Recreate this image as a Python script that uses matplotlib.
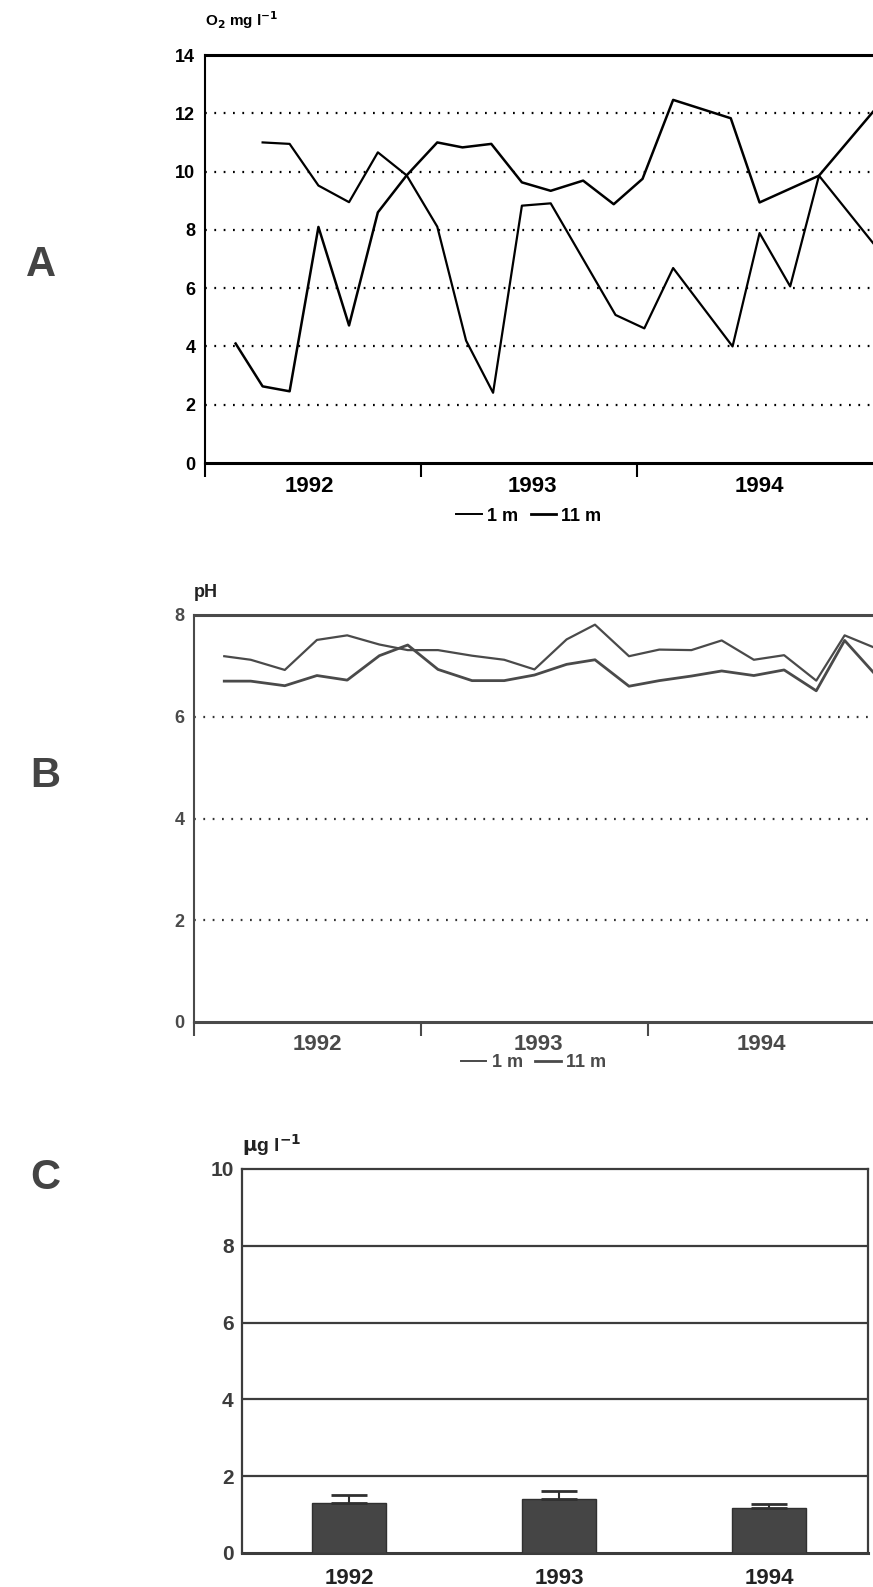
import matplotlib
matplotlib.use('Agg')
import matplotlib.pyplot as plt
from matplotlib.lines import Line2D

plt.rcParams['font.family'] = ['Liberation Sans', 'DejaVu Sans']
plt.rcParams['font.weight'] = 'bold'
plt.rcParams['mathtext.default'] = 'bf'

# --- data (months counted from Jan 1992) ---
years = ['1992', '1993', '1994']

# A: dissolved oxygen, mg/l
o2_months_11m = [1.7, 3.2, 4.7, 6.3, 8.0, 9.6, 11.2, 12.9, 14.3, 15.9, 17.6, 19.2,
                 21.0, 22.7, 24.3, 26.0, 29.2, 30.8, 34.1, 37.1]
o2_11m = [4.10, 2.63, 2.46, 8.10, 4.72, 8.60, 9.87, 11.00, 10.83, 10.95, 9.63, 9.34,
          9.69, 8.88, 9.75, 12.46, 11.83, 8.94, 9.86, 12.05]
o2_months_1m = [3.2, 4.7, 6.3, 8.0, 9.6, 11.2, 12.9, 14.5, 16.0, 17.6, 19.2, 22.8,
                24.4, 26.0, 29.3, 30.8, 32.5, 34.1, 37.1]
o2_1m = [11.00, 10.95, 9.52, 8.95, 10.66, 9.87, 8.11, 4.20, 2.41, 8.83, 8.91, 5.08,
         4.62, 6.69, 4.00, 7.89, 6.06, 9.86, 7.55]

# B: pH
ph_months = [1.6, 3.0, 4.8, 6.5, 8.1, 9.8, 11.3, 12.9, 14.7, 16.4, 18.0, 19.7, 21.2,
             23.0, 24.6, 26.3, 27.9, 29.6, 31.2, 32.9, 34.4, 35.9]
ph_1m = [7.19, 7.12, 6.92, 7.51, 7.60, 7.42, 7.31, 7.31, 7.20, 7.12, 6.93, 7.52, 7.81,
         7.19, 7.32, 7.31, 7.50, 7.12, 7.21, 6.71, 7.60, 7.37]
ph_11m = [6.70, 6.70, 6.61, 6.81, 6.72, 7.20, 7.41, 6.93, 6.71, 6.71, 6.82, 7.03, 7.12,
          6.60, 6.71, 6.80, 6.90, 6.81, 6.92, 6.51, 7.50, 6.88]

# C: yearly means with error
chl_mean = [1.30, 1.41, 1.17]
chl_err = [0.21, 0.20, 0.11]

W, H = 873, 1587
fig = plt.figure(figsize=(W / 100, H / 100), dpi=100)


def box(l, t, r, b):
    return [l / W, 1 - b / H, (r - l) / W, (b - t) / H]


def dotted(ax, levels, color):
    for v in levels:
        ax.axhline(v, color=color, lw=1.6, ls=(0, (0.8, 3.4)), zorder=1)


def style_line_axes(ax, color, xmax, ymax, ystep, year_pos):
    ax.set_xlim(0, xmax)
    ax.set_ylim(0, ymax)
    ax.spines['right'].set_visible(False)
    for s in ['left', 'bottom', 'top']:
        ax.spines[s].set_color(color)
    ax.spines['left'].set_linewidth(1.5)
    ax.spines['bottom'].set_linewidth(2.2)
    ax.spines['top'].set_linewidth(2.2)
    ax.set_yticks(range(0, ymax + 1, ystep))
    ax.tick_params(axis='y', length=0, pad=7, labelsize=13, colors=color)
    ax.set_xticks([0, 12, 24])
    ax.set_xticklabels([])
    ax.tick_params(axis='x', which='major', length=10, width=1.5, color=color, direction='out')
    ax.set_xticks(year_pos, minor=True)
    ax.set_xticklabels(years, minor=True)
    ax.tick_params(axis='x', which='minor', length=0, pad=9, labelsize=16, colors=color)


def depth_legend(ax, color, x, y):
    handles = [Line2D([], [], color=color, lw=1.4), Line2D([], [], color=color, lw=2.0)]
    ax.legend(handles, ['1 m', '11 m'], loc='center', bbox_to_anchor=(x, y), ncol=2,
              frameon=False, fontsize=13, handlelength=1.4, handletextpad=0.3,
              columnspacing=0.7, labelcolor=color)


# ---- A: oxygen ----
axA = fig.add_axes(box(205, 55, 873, 463))
dotted(axA, range(2, 13, 2), 'black')
axA.plot(o2_months_11m, o2_11m, color='black', lw=1.8, zorder=3)
axA.plot(o2_months_1m, o2_1m, color='black', lw=1.6, zorder=3)
style_line_axes(axA, 'black', 37.1, 14, 2, [5.8, 18.2, 30.8])
axA.text(0, 1.086, r'O$_2$ mg l$^{-1}$', transform=axA.transAxes, ha='left', va='center',
         fontsize=11)
depth_legend(axA, 'black', 0.485, -0.13)

# ---- B: pH ----
greyB = '#4a4a4a'
axB = fig.add_axes(box(194, 615, 873, 1022))
dotted(axB, [2, 4, 6], '#333333')
axB.plot(ph_months, ph_1m, color=greyB, lw=1.6, zorder=3)
axB.plot(ph_months, ph_11m, color=greyB, lw=2.0, zorder=3)
style_line_axes(axB, greyB, 35.9, 8, 2, [6.5, 18.2, 30.0])
axB.text(0, 1.056, 'pH', transform=axB.transAxes, ha='left', va='center',
         fontsize=13, color='#222222')
depth_legend(axB, greyB, 0.50, -0.10)

# ---- C: bars ----
greyC = '#3c3c3c'
axC = fig.add_axes(box(242, 1169, 868, 1553))
axC.set_xlim(-0.51, 2.47)
axC.set_ylim(0, 10)
for v in [2, 4, 6, 8]:
    axC.axhline(v, color=greyC, lw=1.6, zorder=1)
xpos = list(range(len(years)))
axC.bar(xpos, chl_mean, width=0.352, color='#454545', edgecolor='#303030', lw=1.0,
        yerr=[[0] * len(chl_err), chl_err], capsize=13, zorder=3,
        error_kw=dict(ecolor='#303030', elinewidth=1.5, capthick=2.0))
for s in axC.spines.values():
    s.set_color(greyC)
    s.set_linewidth(1.6)
axC.spines['bottom'].set_linewidth(2.2)
axC.set_yticks(range(0, 11, 2))
axC.tick_params(axis='y', length=0, pad=6, labelsize=15, colors=greyC)
axC.set_xticks(xpos)
axC.set_xticklabels(years)
axC.tick_params(axis='x', length=0, pad=11, labelsize=16, colors='#222222')
axC.text(0, 1.0625, r'$\mu$g l$^{-1}$', transform=axC.transAxes, ha='left', va='center',
         fontsize=14, color='#222222')

# panel letters
for letter, (px, py) in zip(['A', 'B', 'C'], [(41, 265), (45, 776), (45, 1178)]):
    fig.text(px / W, 1 - py / H, letter, ha='center', va='center', fontsize=30,
             fontweight='bold', color='#444444')

fig.savefig('out.png', dpi=100, facecolor='white')
